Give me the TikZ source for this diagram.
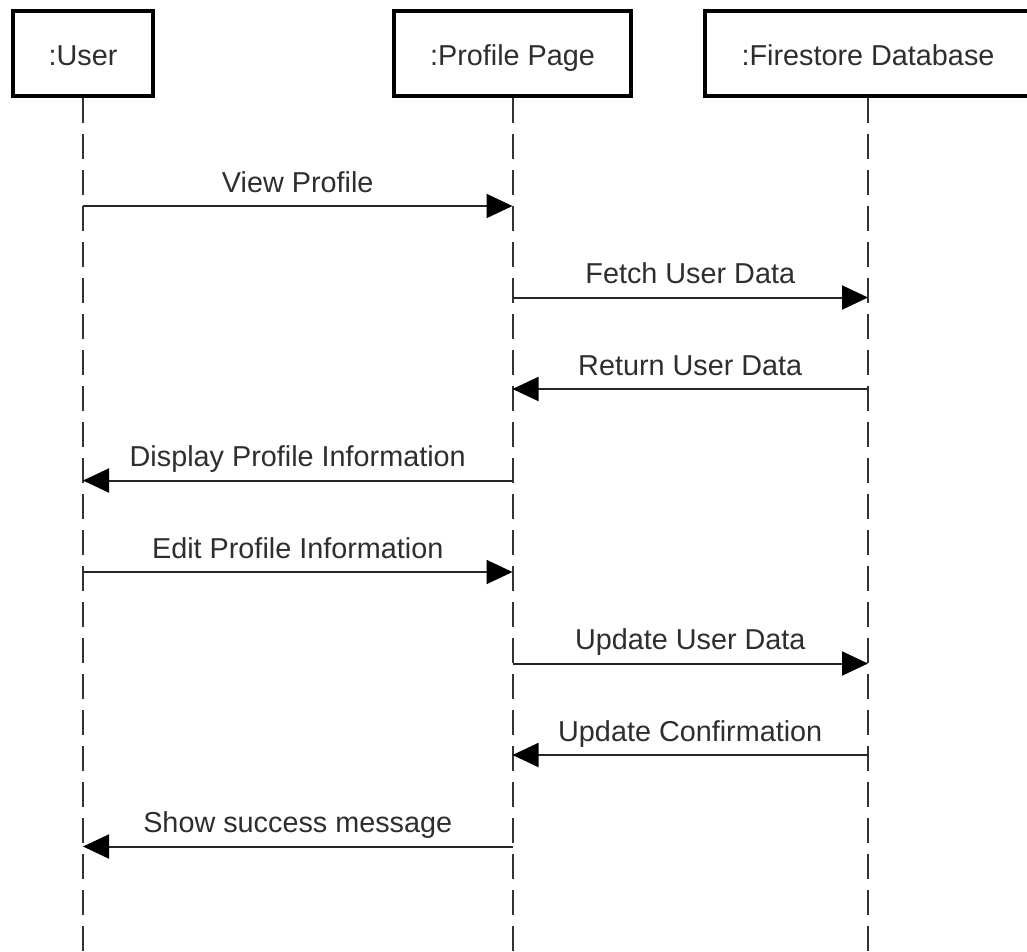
\documentclass[tikz,border=0pt]{standalone}
\usepackage{fontspec}
\setmainfont{Liberation Sans}
\usetikzlibrary{arrows.meta}
\begin{document}
\begin{tikzpicture}[x=1pt,y=-1pt,
  obj/.style={draw=black, line width=4pt, fill=white, minimum height=85.5pt,
    inner sep=0pt, text height=23.5pt, text depth=0pt,
    font=\fontsize{28.8}{34}\selectfont, text=black!82},
  lifeline/.style={draw=black!80, line width=2pt, dash pattern=on 25pt off 11pt},
  msg/.style={draw=black!85, line width=2pt,
    -{Triangle[length=26pt,width=24pt,color=black,fill=black]}},
  lbl/.style={midway, anchor=base, yshift=14pt, inner sep=0pt,
    font=\fontsize{28.8}{34}\selectfont, text=black!82}]
\useasboundingbox (0,0) rectangle (1027,951);
% lifeline ends
\coordinate (uend) at (83,951);
\coordinate (pend) at (512.5,951);
\coordinate (dend) at (868,951);
% objects
\node[obj, minimum width=140pt] (user) at (83,53.25) {:User};
\node[obj, minimum width=237pt] (page) at (512.5,53.25) {:Profile Page};
\node[obj, minimum width=326pt] (db) at (868,53.25) {:Firestore Database};
% lifelines
\draw[lifeline] (user.south) -- (uend);
\draw[lifeline] (page.south) -- (pend);
\draw[lifeline] (db.south) -- (dend);
% message points
\coordinate (u1) at (83,206);    \coordinate (p1) at (512.5,206);
\coordinate (p2) at (512.5,297.5); \coordinate (d2) at (868,297.5);
\coordinate (d3) at (868,389);   \coordinate (p3) at (512.5,389);
\coordinate (p4) at (512.5,480.5); \coordinate (u4) at (83,480.5);
\coordinate (u5) at (83,572);    \coordinate (p5) at (512.5,572);
\coordinate (p6) at (512.5,663.5); \coordinate (d6) at (868,663.5);
\coordinate (d7) at (868,755);   \coordinate (p7) at (512.5,755);
\coordinate (p8) at (512.5,846.5); \coordinate (u8) at (83,846.5);
% messages
\draw[msg] (u1) -- node[lbl] (m1) {View Profile} (p1);
\draw[msg] (p2) -- node[lbl] (m2) {Fetch User Data} (d2);
\draw[msg] (d3) -- node[lbl] (m3) {Return User Data} (p3);
\draw[msg] (p4) -- node[lbl] (m4) {Display Profile Information} (u4);
\draw[msg] (u5) -- node[lbl] (m5) {Edit Profile Information} (p5);
\draw[msg] (p6) -- node[lbl] (m6) {Update User Data} (d6);
\draw[msg] (d7) -- node[lbl] (m7) {Update Confirmation} (p7);
\draw[msg] (p8) -- node[lbl] (m8) {Show success message} (u8);
\end{tikzpicture}
\end{document}
